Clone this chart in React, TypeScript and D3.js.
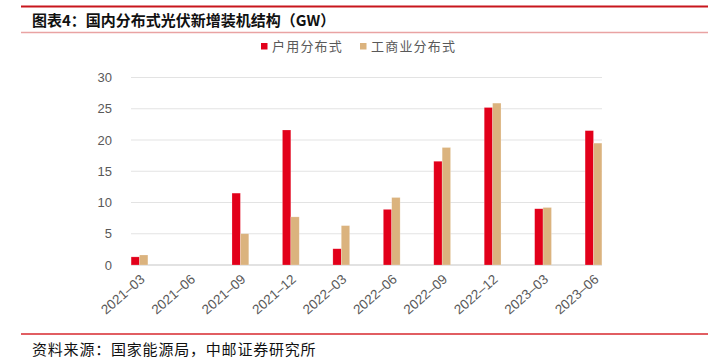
import React from "react";
import * as d3 from "d3";

const categories = [
  "2021–03", "2021–06", "2021–09", "2021–12", "2022–03",
  "2022–06", "2022–09", "2022–12", "2023–03", "2023–06",
];
const household = [1.3, 0, 11.5, 21.6, 2.6, 8.9, 16.6, 25.2, 9.0, 21.5];
const commercial = [1.6, 0, 5.0, 7.7, 6.3, 10.8, 18.8, 25.9, 9.2, 19.5];
const seriesNames = ["户用分布式", "工商业分布式"];
const yTicks = [0, 5, 10, 15, 20, 25, 30];

const RED = "#e2001a";
const TAN = "#dbb37e";
const GREY = "#595959";

export default function App() {
  const W = 708;
  const H = 362;
  const plot = { left: 131, right: 602, top: 77.5, bottom: 265 };

  const y = d3.scaleLinear().domain([0, 30]).range([plot.bottom, plot.top]);
  // bar groups sit flush with the plot edges
  const x = d3
    .scalePoint<string>()
    .domain(categories)
    .range([plot.left + 8.5, plot.right - 8.5]);
  const barW = 8.4;

  const series = [
    { name: seriesNames[0], values: household, color: RED, dx: -barW },
    { name: seriesNames[1], values: commercial, color: TAN, dx: 0 },
  ];

  return (
    <svg
      width={W}
      height={H}
      style={{ position: "fixed", left: 0, top: 0, background: "#fff" }}
      fontFamily="'Noto Sans CJK SC', 'Noto Sans', sans-serif"
    >
      {/* header */}
      <line x1={21} x2={W} y1={6.5} y2={6.5} stroke="#c8161d" strokeWidth={2} />
      <text x={32} y={26} fontSize={15} fontWeight="bold" fill="#111" letterSpacing={0}>
        图表4：国内分布式光伏新增装机结构（GW）
      </text>
      <line x1={21} x2={W} y1={32.5} y2={32.5} stroke="#e9a3a3" strokeWidth={1.5} />

      {/* legend */}
      {series.map((s, i) => {
        const lx = i === 0 ? 261 : 360;
        return (
          <g key={s.name}>
            <rect x={lx} y={43} width={6.5} height={6.5} fill={s.color} />
            <text x={lx + 11} y={51} fontSize={13} fill={GREY} letterSpacing={1.2}>
              {s.name}
            </text>
          </g>
        );
      })}

      {/* gridlines + y labels */}
      {yTicks.map((t) => (
        <g key={t}>
          <line
            x1={plot.left}
            x2={plot.right}
            y1={y(t)}
            y2={y(t)}
            stroke={t === 0 ? "#d9d9d9" : "#e3e3e3"}
            strokeWidth={t === 0 ? 1.5 : 1}
          />
          <text
            x={112}
            y={y(t)}
            dy="0.35em"
            textAnchor="end"
            fontSize={13}
            fill={GREY}
            fontFamily="'Liberation Sans', Arial, sans-serif"
          >
            {t}
          </text>
        </g>
      ))}

      {/* bars */}
      {series.map((s) => (
        <g key={s.name} fill={s.color}>
          {s.values.map((v, i) =>
            v > 0 ? (
              <rect
                key={categories[i]}
                x={x(categories[i])! + s.dx}
                y={y(v)}
                width={barW}
                height={y(0) - y(v)}
                stroke="#fff"
                strokeOpacity={0.35}
                strokeWidth={0.6}
              />
            ) : null
          )}
        </g>
      ))}

      {/* x labels */}
      {categories.map((c) => (
        <text
          key={c}
          transform={`translate(${x(c)! + 3},${277}) rotate(-41)`}
          textAnchor="end"
          dy="0.35em"
          fontSize={13.5}
          fill={GREY}
          fontFamily="'Liberation Sans', Arial, sans-serif"
        >
          {c}
        </text>
      ))}

      {/* footer */}
      <line x1={21} x2={W} y1={334} y2={334} stroke="#d7282e" strokeWidth={1.5} />
      <text x={32} y={355} fontSize={15} fill="#111" letterSpacing={0.8}>
        资料来源：国家能源局，中邮证券研究所
      </text>
    </svg>
  );
}
